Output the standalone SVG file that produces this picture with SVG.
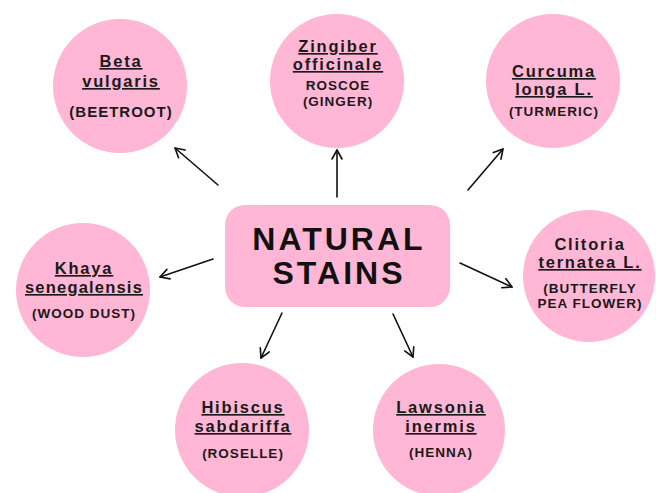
<svg xmlns="http://www.w3.org/2000/svg" width="656" height="493" viewBox="0 0 656 493">
<defs>
<style>
.n{fill:#ffb7d5}
.sp{font-family:"Liberation Sans",Arial,sans-serif;font-weight:bold;font-size:16.5px;letter-spacing:1.8px;fill:#1a1a1a;text-anchor:middle;text-decoration:underline}
.spn{font-family:"Liberation Sans",Arial,sans-serif;font-weight:bold;font-size:16.5px;letter-spacing:1.8px;fill:#1a1a1a;text-anchor:middle}
.cm{font-family:"Liberation Sans",Arial,sans-serif;font-weight:bold;font-size:13.5px;letter-spacing:1px;fill:#1a1a1a;text-anchor:middle}
.tt{font-family:"Liberation Sans",Arial,sans-serif;font-weight:bold;font-size:32px;letter-spacing:3px;fill:#111;text-anchor:middle}
.c{fill:none;stroke:#111;stroke-width:1.6;stroke-linecap:round}
</style>
<marker id="ah" viewBox="0 0 12 12" refX="11" refY="6" markerWidth="12" markerHeight="12" markerUnits="userSpaceOnUse" orient="auto">
<path d="M2,1 L11,6 L2,11" fill="none" stroke="#111" stroke-width="1.6" stroke-linecap="round" stroke-linejoin="round"/>
</marker>
</defs>
<rect width="656" height="493" fill="#ffffff"/>
<g id="connectors">
<path class="c" d="M218,185 L175,148" marker-end="url(#ah)"/>
<path class="c" d="M337,197 L337,150" marker-end="url(#ah)"/>
<path class="c" d="M468,190 L503,149" marker-end="url(#ah)"/>
<path class="c" d="M213,259 L160,277" marker-end="url(#ah)"/>
<path class="c" d="M460,263 L512,287" marker-end="url(#ah)"/>
<path class="c" d="M282,313 L261,358" marker-end="url(#ah)"/>
<path class="c" d="M393,314 L413,357" marker-end="url(#ah)"/>
</g>
<g id="center">
<rect class="n" x="225" y="205" width="225" height="102" rx="20"/>
<text class="tt" x="339" y="250">NATURAL</text>
<text class="tt" x="339" y="284">STAINS</text>
</g>
<g id="beta">
<circle class="n" cx="120" cy="86" r="67"/>
<text class="sp" x="121" y="67">Beta</text>
<text class="sp" x="121" y="87">vulgaris</text>
<text class="cm" x="121" y="117" style="font-size:15px">(BEETROOT)</text>
</g>
<g id="zingiber">
<circle class="n" cx="337" cy="81" r="67"/>
<text class="sp" x="338" y="52">Zingiber</text>
<text class="sp" x="338" y="70">officinale</text>
<text class="cm" x="338" y="90">ROSCOE</text>
<text class="cm" x="338" y="106">(GINGER)</text>
</g>
<g id="curcuma">
<circle class="n" cx="553" cy="81" r="67"/>
<text class="sp" x="554" y="77">Curcuma</text>
<text class="sp" x="554" y="95">longa L.</text>
<text class="cm" x="554" y="116">(TURMERIC)</text>
</g>
<g id="clitoria">
<circle class="n" cx="589" cy="276" r="66"/>
<text class="spn" x="590" y="250">Clitoria</text>
<text class="sp" x="590" y="268">ternatea L.</text>
<text class="cm" x="590" y="293">(BUTTERFLY</text>
<text class="cm" x="590" y="308">PEA FLOWER)</text>
</g>
<g id="khaya">
<circle class="n" cx="83" cy="290" r="67"/>
<text class="sp" x="84" y="274">Khaya</text>
<text class="sp" x="84" y="293" style="letter-spacing:1.2px">senegalensis</text>
<text class="cm" x="84" y="318">(WOOD DUST)</text>
</g>
<g id="hibiscus">
<circle class="n" cx="242" cy="430" r="67"/>
<text class="sp" x="243" y="413">Hibiscus</text>
<text class="sp" x="243" y="432">sabdariffa</text>
<text class="cm" x="243" y="458">(ROSELLE)</text>
</g>
<g id="lawsonia">
<circle class="n" cx="439" cy="430" r="66"/>
<text class="sp" x="441" y="413">Lawsonia</text>
<text class="sp" x="441" y="432">inermis</text>
<text class="cm" x="441" y="457">(HENNA)</text>
</g>
</svg>
